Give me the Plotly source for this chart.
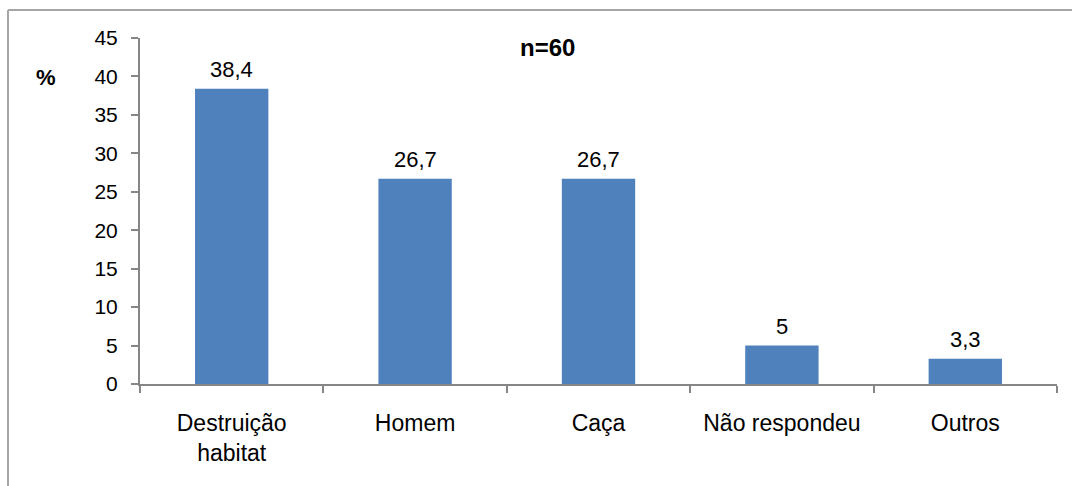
import plotly.graph_objects as go

# Data
categories = ["Destruição<br>habitat", "Homem", "Caça", "Não respondeu", "Outros"]
values = [38.4, 26.7, 26.7, 5, 3.3]
value_labels = ["38,4", "26,7", "26,7", "5", "3,3"]
y_ticks = [0, 5, 10, 15, 20, 25, 30, 35, 40, 45]

W, H = 1072, 486
L, R, T, B = 140, 15, 38, 102
pw, ph = W - L - R, H - T - B

BAR_COLOR = "#4F81BD"
AXIS_COLOR = "#868686"
FONT = "Liberation Sans, Arial, sans-serif"


def px_x(x):
    return (x - L) / pw


def px_y(y):
    return (H - B - y) / ph


fig = go.Figure()
fig.add_trace(go.Bar(
    x=categories,
    y=values,
    marker=dict(color=BAR_COLOR, line=dict(width=0)),
    hoverinfo="skip",
))

# value labels above bars
for c, v, t in zip(categories, values, value_labels):
    fig.add_annotation(x=c, y=v, text=t, showarrow=False, yanchor="bottom",
                       yshift=5, font=dict(family=FONT, size=22, color="#000"))

# sample size and unit labels
fig.add_annotation(x=px_x(547), y=px_y(47), xref="paper", yref="paper",
                   xanchor="center", yanchor="middle",
                   text="<b>n=60</b>", showarrow=False,
                   font=dict(family=FONT, size=24, color="#000"))
fig.add_annotation(x=px_x(46), y=px_y(77), xref="paper", yref="paper",
                   xanchor="center", yanchor="middle",
                   text="<b>%</b>", showarrow=False,
                   font=dict(family=FONT, size=22, color="#000"))

# outer chart frame (top and left edges)
frame = dict(color="#A6A6A6", width=2)
fig.add_shape(type="line", xref="paper", yref="paper",
              x0=px_x(8), x1=px_x(W + 5), y0=px_y(10), y1=px_y(10), line=frame)
fig.add_shape(type="line", xref="paper", yref="paper",
              x0=px_x(8), x1=px_x(8), y0=px_y(10), y1=px_y(H + 5), line=frame)

fig.update_layout(
    width=W, height=H,
    margin=dict(l=L, r=R, t=T, b=B, pad=0),
    paper_bgcolor="white", plot_bgcolor="white",
    bargap=0.6,
    showlegend=False,
    font=dict(family=FONT, size=21, color="#000"),
    xaxis=dict(
        type="category",
        showline=True, linecolor=AXIS_COLOR, linewidth=2,
        ticks="outside", tickson="boundaries", ticklen=7, tickwidth=2, tickcolor=AXIS_COLOR,
        showgrid=False, zeroline=False,
        tickfont=dict(family=FONT, size=23, color="#000"),
        ticklabelstandoff=17,
    ),
    yaxis=dict(
        range=[0, 45],
        tickvals=y_ticks,
        showline=True, linecolor=AXIS_COLOR, linewidth=2,
        ticks="outside", ticklen=7, tickwidth=2, tickcolor=AXIS_COLOR,
        showgrid=False, zeroline=False,
        tickfont=dict(family=FONT, size=21, color="#000"),
        ticklabelstandoff=9,
    ),
)

fig.write_html("out.html")
